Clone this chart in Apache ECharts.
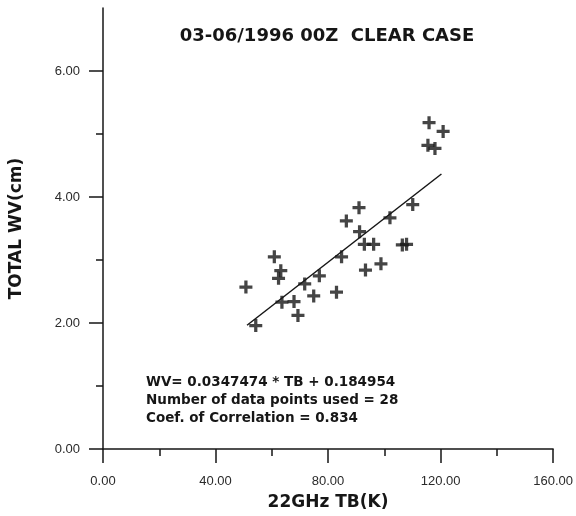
<!DOCTYPE html>
<html>
<head>
<meta charset="utf-8">
<script src="https://cdn.jsdelivr.net/npm/echarts@6/dist/echarts.min.js"></script>
<style>
  html, body { margin: 0; padding: 0; background: #fff; }
  #myEchart { width: 576px; height: 516px; }
</style>
</head>
<body>
<div id="myEchart"></div>
<script>
// data
const tbValues = [50.8, 54.3, 60.9, 63.2, 62.4, 63.6, 67.9, 69.3, 71.7, 74.9, 76.9, 83.0, 84.8, 86.5,
  91.0, 91.2, 92.9, 96.2, 93.3, 98.8, 102.0, 106.4, 107.9, 110.1, 115.9, 120.9, 115.5, 118.0];
const wvValues = [2.57, 1.96, 3.05, 2.83, 2.71, 2.33, 2.34, 2.12, 2.62, 2.43, 2.75, 2.49, 3.05, 3.62,
  3.83, 3.45, 3.25, 3.25, 2.84, 2.94, 3.67, 3.24, 3.25, 3.88, 5.18, 5.04, 4.82, 4.77];
const fitRange = [51.2, 120.3];
const slope = 0.0347474;
const intercept = 0.184954;
const xTicks = [0, 40, 80, 120, 160];
const xMinorTicks = [20, 60, 100, 140];
const yTicks = [0, 2, 4, 6];
const yMinorTicks = [1, 3, 5];

const titleText = "03-06/1996 00Z  CLEAR CASE";
const notes = [
  "WV= 0.0347474 * TB + 0.184954",
  "Number of data points used = 28",
  "Coef. of Correlation = 0.834",
];

const plus = "path://M4.5,0H7.5V4.5H12V7.5H7.5V12H4.5V7.5H0V4.5H4.5Z";
const ink = "#161616";
const boldFont = "DejaVu Sans";

const points = tbValues.map((x, i) => [x, wvValues[i]]);
const fitLine = fitRange.map((x) => [x, slope * x + intercept]);

function tickAxis(ticks, len, extra) {
  return Object.assign({
    type: "value",
    splitLine: { show: false },
    axisLine: { show: true, lineStyle: { color: ink, width: 1.5 } },
    axisTick: { show: true, length: len, lineStyle: { color: ink, width: 1.5 }, customValues: ticks },
  }, extra);
}

const labelStyle = {
  color: "#2a2a2a",
  fontFamily: "Liberation Sans",
  fontSize: 13,
  formatter: (v) => v.toFixed(2),
};
const nameStyle = { fontFamily: boldFont, fontWeight: "bold", fontSize: 17, color: ink };

const option = {
  animation: false,
  backgroundColor: "#fff",
  title: {
    text: titleText,
    left: 322,
    top: 22,
    textAlign: "center",
    textStyle: { fontFamily: boldFont, fontWeight: "bold", fontSize: 18, color: ink },
  },
  grid: { left: 97, right: 21, top: 8, bottom: 61 },
  xAxis: [
    tickAxis(xTicks, 14, {
      min: 0, max: 160, interval: 20,
      name: "22GHz TB(K)", nameLocation: "middle", nameGap: 45, nameTextStyle: nameStyle,
      axisLabel: Object.assign({ margin: 26, customValues: xTicks }, labelStyle),
    }),
    // minor ticks
    tickAxis(xMinorTicks, 7, {
      min: 0, max: 160, interval: 20, position: "bottom",
      axisLine: { show: false },
      axisLabel: { show: false },
    }),
  ],
  yAxis: [
    tickAxis(yTicks, 14, {
      min: 0, max: 7, interval: 1,
      name: "TOTAL WV(cm)", nameLocation: "middle", nameGap: 78, nameTextStyle: nameStyle,
      axisLabel: Object.assign({ margin: 23, customValues: yTicks }, labelStyle),
    }),
    tickAxis(yMinorTicks, 7, {
      min: 0, max: 7, interval: 1, position: "left",
      axisLine: { show: false },
      axisLabel: { show: false },
    }),
  ],
  graphic: [
    {
      type: "text",
      left: 146,
      top: 373,
      style: {
        text: notes.join("\n"),
        font: "bold 13.5px 'DejaVu Sans'",
        lineHeight: 18,
        fill: ink,
      },
    },
  ],
  series: [
    {
      type: "scatter",
      data: points,
      symbol: plus,
      symbolSize: 13,
      itemStyle: { color: ink },
    },
    {
      type: "line",
      data: fitLine,
      symbol: "none",
      lineStyle: { color: ink, width: 1.5 },
    },
  ],
};

const myChart = echarts.init(document.getElementById("myEchart"));
myChart.setOption(option);
</script>
</body>
</html>
